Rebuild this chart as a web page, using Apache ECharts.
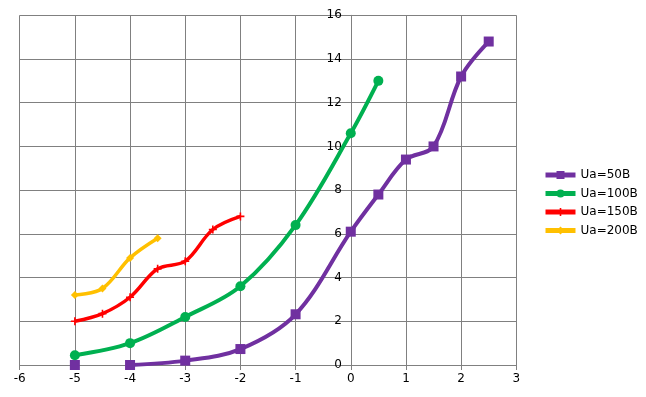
<!DOCTYPE html>
<html lang="en">
  <head>
    <meta charset="UTF-8" />
    <title>Ua curves</title>
    <style>
      body { margin: 0; background: #fff; }
      #chart-container { width: 646px; height: 397px; }
    </style>
    <script src="https://fastly.jsdelivr.net/npm/echarts@6/dist/echarts.min.js"></script>
  </head>
  <body>
    <div id="chart-container"></div>
    <script>
      // values
      const seriesNames = ["Ua=50B", "Ua=100B", "Ua=150B", "Ua=200B"];

      const x50 = [-5, -4.5, -4, -3, -2, -1, 0, 0.5, 1, 1.5, 2, 2.5];
      const y50 = [0, null, 0, 0.2, 0.73, 2.32, 6.1, 7.8, 9.4, 10.0, 13.2, 14.8];

      const x100 = [-5, -4, -3, -2, -1, 0, 0.5];
      const y100 = [0.45, 1.0, 2.2, 3.6, 6.4, 10.6, 13.0];

      const x150 = [-5, -4.5, -4, -3.5, -3, -2.5, -2];
      const y150 = [2.0, 2.35, 3.1, 4.4, 4.75, 6.2, 6.8];

      const x200 = [-5, -4.5, -4, -3.5];
      const y200 = [3.2, 3.5, 4.9, 5.8];

      const xTicks = [-6, -5, -4, -3, -2, -1, 0, 1, 2, 3];
      const yTicks = [0, 2, 4, 6, 8, 10, 12, 14, 16];

      function pairs(xs, ys) {
        return xs.map((x, i) => [x, ys[i] === null ? "-" : ys[i]]);
      }

      const colors = ["#7030A0", "#00B050", "#FF0000", "#FFC000"];
      const plusPath = "path://M4,0H6V4H10V6H6V10H4V6H0V4H4Z";

      let dom = document.getElementById("chart-container");
      let myChart = echarts.init(dom, null, { renderer: "canvas" });

      let gray = "#808080";
      let font = { fontFamily: "DejaVu Sans", fontSize: 12, color: "#000" };

      let gridLeft = 19.7;
      let gridRight = 129.7;
      let plotWidth = 646 - gridLeft - gridRight;
      let xMin = xTicks[0];
      let xMax = xTicks[xTicks.length - 1];
      // y axis crosses the x axis at x = 0
      let yAxisOffset = -plotWidth * (0 - xMin) / (xMax - xMin);

      let option = {
        animation: false,
        color: colors,
        grid: { left: gridLeft, right: gridRight, top: 15.3, bottom: 32, containLabel: false },
        legend: {
          orient: "vertical",
          left: 538,
          top: 163,
          itemWidth: 30,
          itemHeight: 10,
          itemGap: 4.5,
          lineStyle: { width: 5 },
          textStyle: { fontFamily: "DejaVu Sans", fontSize: 12, color: "#000", lineHeight: 14 },
          data: seriesNames,
        },
        xAxis: {
          type: "value",
          min: xMin,
          max: xMax,
          interval: 1,
          axisLine: { show: true, onZero: false, lineStyle: { color: gray, width: 1 } },
          axisTick: { show: true, length: 5, lineStyle: { color: gray } },
          axisLabel: Object.assign({ margin: 8 }, font),
          splitLine: { show: true, lineStyle: { color: gray, width: 1 } },
        },
        yAxis: {
          type: "value",
          position: "left",
          offset: yAxisOffset,
          min: yTicks[0],
          max: yTicks[yTicks.length - 1],
          interval: 2,
          axisLine: { show: true, onZero: false, lineStyle: { color: gray, width: 1 } },
          axisTick: { show: true, length: 5, lineStyle: { color: gray } },
          axisLabel: Object.assign({ margin: 9 }, font),
          splitLine: { show: true, lineStyle: { color: gray, width: 1 } },
        },
        series: [
          {
            name: seriesNames[0],
            type: "line",
            smooth: 0.35,
            data: pairs(x50, y50),
            symbol: "rect",
            symbolSize: 10,
            lineStyle: { width: 4 },
            itemStyle: { color: colors[0] },
          },
          {
            name: seriesNames[1],
            type: "line",
            smooth: 0.35,
            data: pairs(x100, y100),
            symbol: "circle",
            symbolSize: 10,
            lineStyle: { width: 4 },
            itemStyle: { color: colors[1] },
          },
          {
            name: seriesNames[2],
            type: "line",
            smooth: 0.35,
            data: pairs(x150, y150),
            symbol: plusPath,
            symbolSize: 8,
            lineStyle: { width: 3.5 },
            itemStyle: { color: colors[2] },
          },
          {
            name: seriesNames[3],
            type: "line",
            smooth: 0.35,
            data: pairs(x200, y200),
            symbol: "diamond",
            symbolSize: 8,
            lineStyle: { width: 3.5 },
            itemStyle: { color: colors[3] },
          },
        ],
      };
      myChart.setOption(option);
    </script>
  </body>
</html>
